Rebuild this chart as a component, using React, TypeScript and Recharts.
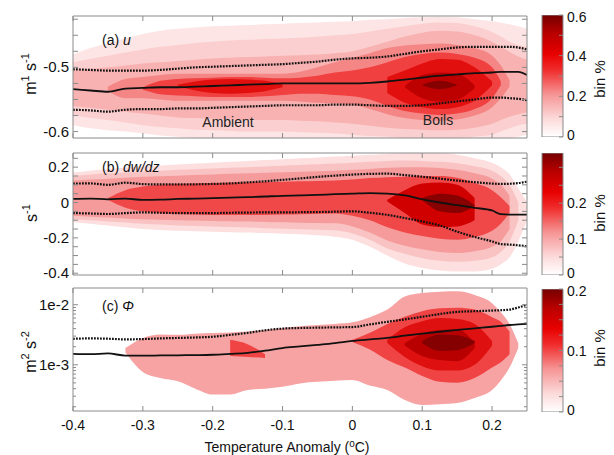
import React from 'react';
import { ComposedChart, Area, Line, XAxis, YAxis, BarChart, Bar } from 'recharts';

type Band = [number, number] | null;

const FONT = '"Liberation Sans", Arial, Helvetica, sans-serif';
const AXIS = '#8a8a8a';

// shared temperature-anomaly grid (extra points near the right edge for the blob tails)
const X = [
  -0.4, -0.375, -0.35, -0.325, -0.3, -0.275, -0.25, -0.225, -0.2, -0.175, -0.15, -0.125, -0.1, -0.075,
  -0.05, -0.025, 0, 0.025, 0.05, 0.075, 0.1, 0.125, 0.15, 0.175, 0.2, 0.2125, 0.225, 0.2375, 0.25,
];
const X_TICKS = [-0.4, -0.3, -0.2, -0.1, 0, 0.1, 0.2];

// place a contour band on the shared grid, starting at x0
const band = (x0: number, vals: Band[]): Band[] => {
  const s = X.indexOf(x0);
  return X.map((_, i) => (i >= s && i - s < vals.length ? vals[i - s] : null));
};
const _ = null;

// ---------- (a) u ----------
const A_MEAN = [-0.534, -0.536, -0.538, -0.533, -0.532, -0.531, -0.531, -0.53, -0.529, -0.528, -0.527, -0.526, -0.525, -0.525, -0.525, -0.525, -0.525, -0.524, -0.522, -0.519, -0.516, -0.513, -0.511, -0.509, -0.508, -0.507, -0.507, -0.507, -0.512];
const A_UP = [-0.503, -0.504, -0.505, -0.505, -0.505, -0.504, -0.502, -0.5, -0.499, -0.498, -0.497, -0.496, -0.495, -0.493, -0.491, -0.488, -0.486, -0.485, -0.483, -0.479, -0.475, -0.472, -0.469, -0.468, -0.468, -0.468, -0.468, -0.469, -0.472];
const A_LOW = [-0.566, -0.567, -0.569, -0.566, -0.565, -0.565, -0.564, -0.564, -0.563, -0.562, -0.561, -0.56, -0.559, -0.559, -0.559, -0.558, -0.558, -0.559, -0.56, -0.56, -0.559, -0.556, -0.553, -0.55, -0.547, -0.547, -0.548, -0.549, -0.551];

const A_C1 = band(-0.4, [[-0.59, -0.48], [-0.595, -0.47], [-0.598, -0.462], [-0.6, -0.455], [-0.603, -0.448], [-0.606, -0.443], [-0.608, -0.44], [-0.61, -0.438], [-0.61, -0.436], [-0.61, -0.435], [-0.61, -0.434], [-0.61, -0.433], [-0.61, -0.432], [-0.61, -0.431], [-0.61, -0.43], [-0.61, -0.429], [-0.61, -0.428], [-0.61, -0.426], [-0.61, -0.425], [-0.61, -0.423], [-0.61, -0.422], [-0.61, -0.421], [-0.61, -0.422], [-0.61, -0.425], [-0.61, -0.428], [-0.61, -0.43], [-0.61, -0.433], [-0.608, -0.436], [-0.605, -0.44]]);
const A_C2 = band(-0.4, [[-0.575, -0.492], [-0.579, -0.487], [-0.582, -0.482], [-0.586, -0.477], [-0.59, -0.472], [-0.593, -0.468], [-0.595, -0.465], [-0.597, -0.462], [-0.598, -0.46], [-0.599, -0.458], [-0.6, -0.457], [-0.6, -0.456], [-0.6, -0.455], [-0.601, -0.454], [-0.602, -0.452], [-0.603, -0.45], [-0.605, -0.448], [-0.607, -0.444], [-0.608, -0.44], [-0.61, -0.436], [-0.61, -0.432], [-0.61, -0.43], [-0.61, -0.431], [-0.608, -0.436], [-0.605, -0.445], [-0.6, -0.452], [-0.595, -0.46], [-0.59, -0.465], [-0.588, -0.468]]);
const A_C3 = band(-0.4, [[-0.56, -0.505], [-0.563, -0.502], [-0.566, -0.5], [-0.569, -0.497], [-0.572, -0.494], [-0.575, -0.492], [-0.578, -0.49], [-0.579, -0.488], [-0.58, -0.486], [-0.581, -0.485], [-0.582, -0.484], [-0.582, -0.483], [-0.582, -0.482], [-0.583, -0.481], [-0.584, -0.48], [-0.586, -0.478], [-0.588, -0.475], [-0.591, -0.468], [-0.594, -0.46], [-0.596, -0.452], [-0.597, -0.446], [-0.598, -0.443], [-0.597, -0.444], [-0.594, -0.45], [-0.588, -0.46], [-0.582, -0.468], [-0.577, -0.476], [-0.573, -0.483], [-0.57, -0.488]]);
const A_C4 = band(-0.35, [[-0.536, -0.53], [-0.548, -0.518], [-0.548, -0.515], [-0.55, -0.512], [-0.552, -0.51], [-0.552, -0.51], [-0.552, -0.51], [-0.552, -0.51], [-0.552, -0.51], [-0.552, -0.51], [-0.552, -0.51], [-0.553, -0.507], [-0.555, -0.5], [-0.556, -0.492], [-0.558, -0.485], [-0.565, -0.478], [-0.573, -0.47], [-0.579, -0.466], [-0.582, -0.464], [-0.583, -0.463], [-0.581, -0.465], [-0.575, -0.47], [-0.562, -0.482], [-0.548, -0.497], [-0.53, -0.52]]);
const A_C5 = band(-0.3, [[-0.535, -0.531], [-0.542, -0.521], [-0.544, -0.518], [-0.545, -0.517], [-0.546, -0.516], [-0.546, -0.515], [-0.546, -0.515], [-0.545, -0.516], [-0.543, -0.517], [-0.541, -0.516], [-0.541, -0.513], [-0.543, -0.508], [-0.545, -0.505], [-0.55, -0.5], [-0.56, -0.492], [-0.568, -0.484], [-0.572, -0.479], [-0.574, -0.477], [-0.572, -0.479], [-0.565, -0.485], [-0.548, -0.5], [-0.528, -0.522]]);
const A_C6 = band(-0.25, [[-0.529, -0.527], [-0.536, -0.522], [-0.54, -0.519], [-0.541, -0.518], [-0.54, -0.519], [-0.537, -0.521], [-0.531, -0.526], _, _, _, _, _, [-0.54, -0.515], [-0.555, -0.505], [-0.562, -0.494], [-0.565, -0.487], [-0.562, -0.488], [-0.552, -0.5], [-0.528, -0.522]]);
const A_C7 = band(0.075, [[-0.531, -0.529], [-0.548, -0.512], [-0.553, -0.508], [-0.55, -0.51], [-0.532, -0.528]]);
const A_C8 = band(0.1, [[-0.528, -0.527], [-0.534, -0.521], [-0.528, -0.527]]);
const A_COLORS = ['#fde5e5', '#fbcfcf', '#f8b2b2', '#f48686', '#f04040', '#e20f0f', '#bd0000', '#860000'];
const A_YTICKS = [-0.6, -0.575, -0.55, -0.525, -0.5, -0.475, -0.45, -0.425];
const A_YLABELS = [-0.6, -0.5];

// ---------- (b) dw/dz ----------
const B_MEAN = [0.02, 0.022, 0.018, 0.022, 0.015, 0.016, 0.02, 0.022, 0.025, 0.028, 0.03, 0.034, 0.038, 0.04, 0.043, 0.047, 0.05, 0.053, 0.05, 0.04, 0.018, 0.0, -0.015, -0.03, -0.045, -0.066, -0.068, -0.068, -0.068];
const B_UP = [0.107, 0.108, 0.1, 0.112, 0.104, 0.102, 0.102, 0.103, 0.105, 0.108, 0.114, 0.12, 0.128, 0.136, 0.145, 0.152, 0.158, 0.162, 0.163, 0.155, 0.146, 0.135, 0.124, 0.115, 0.107, 0.105, 0.106, 0.11, 0.118];
const B_LOW = [-0.06, -0.062, -0.065, -0.06, -0.056, -0.058, -0.06, -0.06, -0.06, -0.058, -0.057, -0.056, -0.056, -0.055, -0.054, -0.052, -0.05, -0.058, -0.07, -0.088, -0.107, -0.13, -0.165, -0.195, -0.22, -0.235, -0.238, -0.242, -0.248];

const B_C1 = band(-0.4, [[-0.11, 0.17], [-0.12, 0.18], [-0.13, 0.19], [-0.14, 0.198], [-0.15, 0.205], [-0.155, 0.21], [-0.16, 0.215], [-0.163, 0.22], [-0.166, 0.225], [-0.168, 0.23], [-0.17, 0.235], [-0.173, 0.24], [-0.176, 0.245], [-0.18, 0.25], [-0.185, 0.255], [-0.193, 0.26], [-0.21, 0.265], [-0.25, 0.27], [-0.3, 0.275], [-0.345, 0.28], [-0.37, 0.28], [-0.385, 0.28], [-0.39, 0.27], [-0.39, 0.25], [-0.375, 0.225], [-0.35, 0.2], [-0.31, 0.16], [-0.22, 0.08], [-0.1, 0.0]]);
const B_C2 = band(-0.4, [[-0.095, 0.15], [-0.1, 0.158], [-0.107, 0.165], [-0.113, 0.17], [-0.12, 0.175], [-0.125, 0.18], [-0.13, 0.185], [-0.133, 0.188], [-0.136, 0.192], [-0.139, 0.196], [-0.142, 0.2], [-0.145, 0.204], [-0.148, 0.208], [-0.151, 0.212], [-0.154, 0.216], [-0.157, 0.22], [-0.175, 0.225], [-0.21, 0.23], [-0.26, 0.235], [-0.29, 0.237], [-0.315, 0.235], [-0.33, 0.23], [-0.335, 0.222], [-0.33, 0.205], [-0.31, 0.18], [-0.28, 0.15], [-0.22, 0.1], [-0.1, 0.0]]);
const B_C3 = band(-0.4, [[-0.075, 0.125], [-0.08, 0.13], [-0.085, 0.135], [-0.09, 0.14], [-0.095, 0.145], [-0.098, 0.148], [-0.1, 0.152], [-0.102, 0.155], [-0.104, 0.158], [-0.106, 0.162], [-0.108, 0.165], [-0.11, 0.168], [-0.112, 0.171], [-0.114, 0.174], [-0.116, 0.177], [-0.118, 0.18], [-0.135, 0.185], [-0.17, 0.19], [-0.215, 0.197], [-0.245, 0.2], [-0.265, 0.2], [-0.28, 0.195], [-0.285, 0.185], [-0.275, 0.165], [-0.25, 0.135], [-0.22, 0.1], [-0.15, 0.04]]);
const B_C4 = band(-0.35, [[0.015, 0.025], [-0.03, 0.07], [-0.05, 0.09], [-0.06, 0.1], [-0.065, 0.105], [-0.068, 0.108], [-0.07, 0.11], [-0.07, 0.112], [-0.07, 0.114], [-0.07, 0.116], [-0.068, 0.118], [-0.066, 0.12], [-0.064, 0.122], [-0.062, 0.124], [-0.075, 0.13], [-0.1, 0.138], [-0.14, 0.143], [-0.17, 0.146], [-0.19, 0.15], [-0.205, 0.15], [-0.21, 0.14], [-0.195, 0.11], [-0.16, 0.07], [-0.12, 0.03], [-0.06, -0.02]]);
const B_C5 = band(0.05, [[0.005, 0.015], [-0.06, 0.07], [-0.125, 0.108], [-0.138, 0.113], [-0.135, 0.1], [-0.1, 0.025]]);
const B_C6 = band(0.1, [[0.015, 0.025], [-0.05, 0.05], [-0.06, 0.04], [-0.02, -0.015]]);
const B_COLORS = ['#fddfdf', '#fac3c3', '#f69b9b', '#f04848', '#d10000', '#880000'];
const B_YTICKS = [-0.4, -0.35, -0.3, -0.25, -0.2, -0.15, -0.1, -0.05, 0, 0.05, 0.1, 0.15, 0.2, 0.25];
const B_YLABELS = [-0.4, -0.2, 0, 0.2];

// ---------- (c) Phi (log axis) ----------
const C_MEAN = [1.52e-3, 1.5e-3, 1.55e-3, 1.42e-3, 1.42e-3, 1.43e-3, 1.44e-3, 1.45e-3, 1.47e-3, 1.52e-3, 1.58e-3, 1.72e-3, 1.9e-3, 2.02e-3, 2.15e-3, 2.3e-3, 2.5e-3, 2.65e-3, 2.8e-3, 3.05e-3, 3.3e-3, 3.55e-3, 3.8e-3, 4.05e-3, 4.3e-3, 4.45e-3, 4.6e-3, 4.7e-3, 4.8e-3];
const C_UP = [2.71e-3, 2.75e-3, 2.72e-3, 2.65e-3, 2.68e-3, 2.75e-3, 2.8e-3, 2.85e-3, 2.93e-3, 3.15e-3, 3.4e-3, 3.75e-3, 4.0e-3, 4.1e-3, 4.15e-3, 4.2e-3, 4.25e-3, 4.7e-3, 5.2e-3, 5.7e-3, 6.3e-3, 7.0e-3, 7.6e-3, 7.8e-3, 8.0e-3, 8.1e-3, 8.3e-3, 9.0e-3, 1.0e-2];

const C_C1 = band(-0.325, [[1.6e-3, 1.9e-3], [7.6e-4, 2.8e-3], [6e-4, 3.2e-3], [5.3e-4, 3.16e-3], [4e-4, 3.3e-3], [3.2e-4, 3.37e-3], [3.2e-4, 3.45e-3], [3.8e-4, 3.6e-3], [4e-4, 3.8e-3], [4.3e-4, 4.1e-3], [4.9e-4, 4.4e-3], [5.2e-4, 4.6e-3], [5.4e-4, 4.8e-3], [5.6e-4, 5.1e-3], [4.5e-4, 6.2e-3], [3.8e-4, 8.3e-3], [2.6e-4, 1.37e-2], [2.15e-4, 1.57e-2], [2.2e-4, 1.65e-2], [2.3e-4, 1.67e-2], [2.8e-4, 1.45e-2], [3.8e-4, 1.06e-2], [5.5e-4, 7.5e-3], [9e-4, 4.8e-3], [1.9e-3, 2.3e-3]]);
const C_C2 = band(-0.175, [[1.4e-3, 2.6e-3], [1.35e-3, 2.2e-3], [1.3e-3, 1.5e-3], _, _, _, _, [2.4e-3, 2.6e-3], [1.8e-3, 3.4e-3], [1.2e-3, 4.8e-3], [9e-4, 6.3e-3], [6.5e-4, 7.8e-3], [5.2e-4, 8.7e-3], [5e-4, 8.9e-3], [6e-4, 8.3e-3], [9e-4, 6.2e-3], [1.1e-3, 5.2e-3], [1.5e-3, 3.6e-3]]);
const C_C3 = band(0.05, [[2.3e-3, 2.6e-3], [1.35e-3, 4.2e-3], [9.5e-4, 5.3e-3], [8e-4, 6e-3], [8e-4, 5.8e-3], [1e-3, 4.8e-3], [2.1e-3, 2.5e-3]]);
const C_C4 = band(0.075, [[2.1e-3, 2.3e-3], [1.4e-3, 3.3e-3], [1.2e-3, 3.8e-3], [1.15e-3, 3.9e-3], [1.9e-3, 2.3e-3]]);
const C_C5 = band(0.1, [[2.3e-3, 2.5e-3], [1.7e-3, 3.2e-3], [1.75e-3, 3.1e-3], [2.3e-3, 2.5e-3]]);
const C_COLORS = ['#f7a3a3', '#f04444', '#de1010', '#b90000', '#850000'];
const C_YTICKS = [2e-4, 3e-4, 4e-4, 5e-4, 6e-4, 7e-4, 8e-4, 9e-4, 1e-3, 2e-3, 3e-3, 4e-3, 5e-3, 6e-3, 7e-3, 8e-3, 9e-3, 1e-2];
const C_YLABELS = [1e-3, 1e-2];
const C_YTEXT = ['1e-3', '1e-2'];

// ---------- colour bars ----------
const CB_A_TICKS = [0, 0.1, 0.2, 0.3, 0.4, 0.5, 0.6];
const CB_A_LABELS = [0, 0.2, 0.4, 0.6];
const CB_B_TICKS = [0, 0.05, 0.1, 0.15, 0.2, 0.25, 0.3];
const CB_B_LABELS = [0, 0.1, 0.2];
const CB_C_TICKS = [0, 0.025, 0.05, 0.075, 0.1, 0.125, 0.15, 0.175, 0.2];
const CB_C_LABELS = [0, 0.1, 0.2];

const near = (list: number[], v: number) => list.findIndex((t) => Math.abs(t - v) < 1e-12);

const xTick = (side: 'b' | 't', labels: boolean) => (p: any) => {
  const { x, y, payload } = p;
  const d = side === 'b' ? -5 : 5;
  return (
    <g>
      <line x1={x} y1={y} x2={x} y2={y + d} stroke={AXIS} />
      {labels && (
        <text x={x} y={y + 19} textAnchor="middle" fontSize={14} fontFamily={FONT} fill="#111">
          {String(payload.value)}
        </text>
      )}
    </g>
  );
};

const yTick = (side: 'l' | 'r', labelVals: number[], texts?: string[], log?: boolean) => (p: any) => {
  const { x, y, payload } = p;
  const i = near(labelVals, payload.value);
  const len = log && i < 0 ? 3 : 5;
  const d = side === 'l' ? len : -len;
  return (
    <g>
      <line x1={x} y1={y} x2={x + d} y2={y} stroke={AXIS} />
      {side === 'l' && i >= 0 && (
        <text x={x - 4} y={y + 5} textAnchor="end" fontSize={15} fontFamily={FONT} fill="#111">
          {texts ? texts[i] : String(payload.value)}
        </text>
      )}
    </g>
  );
};

// colour-bar ticks: bottom label sits a little high, top label a little low, as in the figure
const cbTick = (labelVals: number[], max: number) => (p: any) => {
  const { x, y, payload } = p;
  const i = near(labelVals, payload.value);
  const dy = payload.value === 0 ? 3 : Math.abs(payload.value - max) < 1e-9 ? 7 : 5;
  return (
    <g>
      <line x1={x} y1={y} x2={x - 4} y2={y} stroke={AXIS} />
      {i >= 0 && (
        <text x={x + 4} y={y + dy} fontSize={14} fontFamily={FONT} fill="#111">
          {String(payload.value)}
        </text>
      )}
    </g>
  );
};

type PanelProps = {
  top: number;
  height: number;
  mTop: number;
  mBottom: number;
  levels: Band[][];
  colors: string[];
  mean: number[];
  up: number[];
  low?: number[];
  domain: [number, number];
  yTicks: number[];
  yLabels: number[];
  yTexts?: string[];
  log?: boolean;
  xLabels?: boolean;
};

// axes are 1px thick so that their ticks land exactly on the plot frame
function Panel(p: PanelProps) {
  const rows = X.map((x, i) => {
    const r: Record<string, any> = { x, mean: p.mean[i], up: p.up[i], low: p.low ? p.low[i] : null };
    p.levels.forEach((lv, k) => {
      r['c' + k] = lv[i];
    });
    return r;
  });
  const scale = p.log ? 'log' : 'linear';
  return (
    <div style={{ position: 'absolute', left: 0, top: p.top }}>
      <ComposedChart
        width={545}
        height={p.height}
        data={rows}
        margin={{ top: p.mTop - 1, right: 17, bottom: p.mBottom - 1, left: 72 }}
      >
        <XAxis xAxisId="b" dataKey="x" type="number" domain={[-0.4, 0.25]} allowDataOverflow ticks={X_TICKS} interval={0}
          height={1} tickSize={0} tickMargin={0} tickLine={false} axisLine={{ stroke: AXIS }} tick={xTick('b', !!p.xLabels)} />
        <XAxis xAxisId="t" orientation="top" dataKey="x" type="number" domain={[-0.4, 0.25]} allowDataOverflow ticks={X_TICKS}
          interval={0} height={1} tickSize={0} tickMargin={0} tickLine={false} axisLine={{ stroke: AXIS }} tick={xTick('t', false)} />
        <YAxis yAxisId="l" type="number" scale={scale} domain={p.domain} allowDataOverflow ticks={p.yTicks} interval={0}
          width={1} tickSize={0} tickMargin={0} tickLine={false} axisLine={{ stroke: AXIS }}
          tick={yTick('l', p.yLabels, p.yTexts, p.log)} />
        <YAxis yAxisId="r" orientation="right" type="number" scale={scale} domain={p.domain} allowDataOverflow ticks={p.yTicks}
          interval={0} width={1} tickSize={0} tickMargin={0} tickLine={false} axisLine={{ stroke: AXIS }}
          tick={yTick('r', p.yLabels, p.yTexts, p.log)} />
        {p.levels.map((_, k) => (
          <Area key={k} xAxisId="b" yAxisId="l" dataKey={'c' + k} type="monotone" stroke="none" fill={p.colors[k]}
            fillOpacity={1} dot={false} activeDot={false} isAnimationActive={false} />
        ))}
        <Line xAxisId="b" yAxisId="l" dataKey="up" type="monotone" stroke="#111" strokeWidth={2.2} strokeDasharray="1.8 1.2"
          dot={false} activeDot={false} isAnimationActive={false} />
        {p.low && (
          <Line xAxisId="b" yAxisId="l" dataKey="low" type="monotone" stroke="#111" strokeWidth={2.2} strokeDasharray="1.8 1.2"
            dot={false} activeDot={false} isAnimationActive={false} />
        )}
        <Line xAxisId="b" yAxisId="l" dataKey="mean" type="monotone" stroke="#111" strokeWidth={1.8}
          dot={false} activeDot={false} isAnimationActive={false} />
      </ComposedChart>
    </div>
  );
}

function ColorBar({ top, mTop, mBottom, max, ticks, labels }: { top: number; mTop: number; mBottom: number; max: number; ticks: number[]; labels: number[] }) {
  return (
    <div style={{ position: 'absolute', left: 530, top }}>
      <BarChart width={84} height={150} data={[{ k: 'bin', v: max }]} margin={{ top: mTop, right: 50, bottom: mBottom, left: 12 }}
        barCategoryGap={0}>
        <XAxis dataKey="k" hide />
        <YAxis orientation="right" type="number" domain={[0, max]} allowDataOverflow ticks={ticks} interval={0} width={1}
          tickSize={0} tickMargin={0} tickLine={false} axisLine={false} tick={cbTick(labels, labels[labels.length - 1] === max ? max : -1)} />
        <Bar dataKey="v" fill="url(#cmap)" stroke={AXIS} isAnimationActive={false} />
      </BarChart>
    </div>
  );
}

export default function App() {
  return (
    <div style={{ position: 'absolute', left: 0, top: 0, width: 614, height: 455, background: '#fff', fontFamily: FONT }}>
      <svg width={0} height={0} style={{ position: 'absolute' }}>
        <defs>
          <linearGradient id="cmap" x1="0" y1="1" x2="0" y2="0">
            <stop offset="0" stopColor="#ffffff" />
            <stop offset="0.15" stopColor="#fcdada" />
            <stop offset="0.35" stopColor="#f69494" />
            <stop offset="0.55" stopColor="#f02c2c" />
            <stop offset="0.68" stopColor="#e80000" />
            <stop offset="0.85" stopColor="#b80000" />
            <stop offset="1" stopColor="#760000" />
          </linearGradient>
        </defs>
      </svg>

      <Panel top={0} height={150} mTop={16} mBottom={12} levels={[A_C1, A_C2, A_C3, A_C4, A_C5, A_C6, A_C7, A_C8]}
        colors={A_COLORS} mean={A_MEAN} up={A_UP} low={A_LOW} domain={[-0.61, -0.42]} yTicks={A_YTICKS} yLabels={A_YLABELS} />
      <Panel top={140} height={150} mTop={13} mBottom={15} levels={[B_C1, B_C2, B_C3, B_C4, B_C5, B_C6]}
        colors={B_COLORS} mean={B_MEAN} up={B_UP} low={B_LOW} domain={[-0.41, 0.28]} yTicks={B_YTICKS} yLabels={B_YLABELS} />
      <Panel top={276} height={179} mTop={12} mBottom={44} levels={[C_C1, C_C2, C_C3, C_C4, C_C5]}
        colors={C_COLORS} mean={C_MEAN} up={C_UP} domain={[1.7e-4, 1.9e-2]} yTicks={C_YTICKS} yLabels={C_YLABELS}
        yTexts={C_YTEXT} log xLabels />

      <ColorBar top={0} mTop={15} mBottom={13} max={0.6} ticks={CB_A_TICKS} labels={CB_A_LABELS} />
      <ColorBar top={140} mTop={13} mBottom={15} max={0.34} ticks={CB_B_TICKS} labels={CB_B_LABELS} />
      <ColorBar top={276} mTop={13} mBottom={14} max={0.2} ticks={CB_C_TICKS} labels={CB_C_LABELS} />

      <svg width={614} height={455} style={{ position: 'absolute', left: 0, top: 0, pointerEvents: 'none' }} fontFamily={FONT}>
        <text x={102} y={45} fontSize={14} fill="#111">(a) <tspan fontStyle="italic">u</tspan></text>
        <text x={102} y={172} fontSize={14} fill="#111">(b) <tspan fontStyle="italic">dw/dz</tspan></text>
        <text x={102} y={311} fontSize={14} fill="#111">(c) <tspan fontStyle="italic">Φ</tspan></text>
        <text x={228} y={127} fontSize={14} textAnchor="middle" fill="#222">Ambient</text>
        <text x={438} y={125} fontSize={14} textAnchor="middle" fill="#222">Boils</text>

        <text transform="translate(36,74) rotate(-90)" textAnchor="middle" fontSize={16} fill="#111">
          m<tspan dy={-7} fontSize={11}>1</tspan><tspan dy={7}> s</tspan><tspan dy={-7} fontSize={11}>-1</tspan>
        </text>
        <text transform="translate(37,213) rotate(-90)" textAnchor="middle" fontSize={16} fill="#111">
          s<tspan dy={-7} fontSize={11}>-1</tspan>
        </text>
        <text transform="translate(36,352) rotate(-90)" textAnchor="middle" fontSize={16} fill="#111">
          m<tspan dy={-7} fontSize={11}>2</tspan><tspan dy={7}> s</tspan><tspan dy={-7} fontSize={11}>-2</tspan>
        </text>

        <text x={287} y={452} textAnchor="middle" fontSize={14} fill="#111">
          Temperature Anomaly (<tspan dy={-5} fontSize={10}>o</tspan><tspan dy={5}>C)</tspan>
        </text>

        <text transform="translate(605,79) rotate(-90)" textAnchor="middle" fontSize={15} fill="#111">bin %</text>
        <text transform="translate(605,213) rotate(-90)" textAnchor="middle" fontSize={15} fill="#111">bin %</text>
        <text transform="translate(605,348) rotate(-90)" textAnchor="middle" fontSize={15} fill="#111">bin %</text>
      </svg>
    </div>
  );
}
